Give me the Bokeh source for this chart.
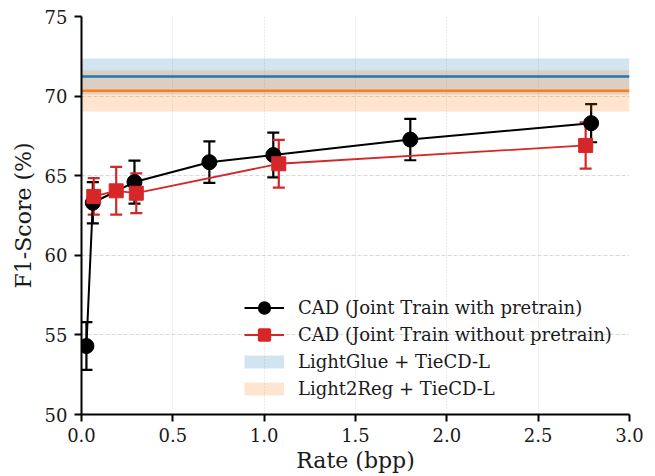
from bokeh.plotting import figure
from bokeh.models import Whisker, TeeHead, ColumnDataSource, FixedTicker, PrintfTickFormatter, Range1d, Legend, LegendItem
from bokeh.embed import file_html
from bokeh.resources import INLINE

# Data
x_pre = [0.027, 0.062, 0.29, 0.70, 1.05, 1.80, 2.79]
y_pre = [54.3, 63.3, 64.6, 65.85, 66.3, 67.27, 68.3]
err_pre = [1.5, 1.3, 1.35, 1.3, 1.4, 1.3, 1.2]

x_nopre = [0.067, 0.19, 0.30, 1.08, 2.76]
y_nopre = [63.7, 64.05, 63.9, 65.75, 66.9]
err_nopre = [1.15, 1.5, 1.25, 1.5, 1.45]

lightglue_mean, lightglue_std = 71.23, 1.13
light2reg_mean, light2reg_std = 70.33, 1.3

x_ticks = [0.0, 0.5, 1.0, 1.5, 2.0, 2.5, 3.0]
y_ticks = [50, 55, 60, 65, 70, 75]

FONT = "DejaVu Serif"
BLACK = "#000000"
RED = "#d62728"
BLUE = "#1f77b4"
ORANGE = "#ff7f0e"
TXT = "#1a1a1a"
NAN = float("nan")

p = figure(width=648, height=476, output_backend="svg", toolbar_location=None,
           x_range=Range1d(0, 3), y_range=Range1d(50, 75),
           min_border_left=81, min_border_top=16, min_border_right=19, min_border_bottom=62)
p.outline_line_color = None

# bands
p.varea(x=[0, 3], y1=[lightglue_mean - lightglue_std] * 2, y2=[lightglue_mean + lightglue_std] * 2,
        fill_color=BLUE, fill_alpha=0.2)
p.varea(x=[0, 3], y1=[light2reg_mean - light2reg_std] * 2, y2=[light2reg_mean + light2reg_std] * 2,
        fill_color=ORANGE, fill_alpha=0.2)
p.line([0, 3], [lightglue_mean] * 2, line_color=BLUE, line_width=2.5)
p.line([0, 3], [light2reg_mean] * 2, line_color=ORANGE, line_width=2.5)

# legend-only proxies (no visible data)
leg_blue = p.line([NAN, NAN], [NAN, NAN], line_color=BLUE, line_alpha=0.2, line_width=13, line_cap="butt")
leg_orange = p.line([NAN, NAN], [NAN, NAN], line_color=ORANGE, line_alpha=0.2, line_width=13, line_cap="butt")
leg_circ = p.scatter([NAN], [NAN], marker="circle", fill_color=BLACK, line_color=BLACK, line_width=2.5)
leg_sq = p.scatter([NAN], [NAN], marker="square", fill_color=RED, line_color=RED, line_width=2.5)

# series with pretrain
src_pre = ColumnDataSource(dict(x=x_pre, y=y_pre,
                                lo=[a - b for a, b in zip(y_pre, err_pre)],
                                hi=[a + b for a, b in zip(y_pre, err_pre)]))
lab_pre = "CAD (Joint Train with pretrain)"
l_pre = p.line("x", "y", source=src_pre, line_color=BLACK, line_width=2)
p.add_layout(Whisker(base="x", lower="lo", upper="hi", source=src_pre, dimension="height",
                     line_color=BLACK, line_width=2.2,
                     upper_head=TeeHead(size=12, line_color=BLACK, line_width=2.2),
                     lower_head=TeeHead(size=12, line_color=BLACK, line_width=2.2)))
s_pre = p.scatter("x", "y", source=src_pre, marker="circle", size=15, fill_color=BLACK, line_color=BLACK)

# series without pretrain
src_np = ColumnDataSource(dict(x=x_nopre, y=y_nopre,
                               lo=[a - b for a, b in zip(y_nopre, err_nopre)],
                               hi=[a + b for a, b in zip(y_nopre, err_nopre)]))
lab_np = "CAD (Joint Train without pretrain)"
l_np = p.line("x", "y", source=src_np, line_color=RED, line_width=1.8)
p.add_layout(Whisker(base="x", lower="lo", upper="hi", source=src_np, dimension="height",
                     line_color=RED, line_width=2.2,
                     upper_head=TeeHead(size=12, line_color=RED, line_width=2.2),
                     lower_head=TeeHead(size=12, line_color=RED, line_width=2.2)))
s_np = p.scatter("x", "y", source=src_np, marker="square", size=14, fill_color=RED, line_color=RED)

# axes
p.xaxis.ticker = FixedTicker(ticks=x_ticks)
p.yaxis.ticker = FixedTicker(ticks=y_ticks)
p.xaxis.formatter = PrintfTickFormatter(format="%.1f")
p.yaxis.formatter = PrintfTickFormatter(format="%d")
for ax in (p.xaxis, p.yaxis):
    ax.axis_line_width = 2
    ax.axis_line_color = BLACK
    ax.major_tick_line_width = 2
    ax.major_tick_line_color = BLACK
    ax.major_tick_out = 7
    ax.major_tick_in = 0
    ax.minor_tick_line_color = None
    ax.major_label_text_font = FONT
    ax.major_label_text_font_size = "18px"
    ax.major_label_text_color = TXT
    ax.axis_label_text_font = FONT
    ax.axis_label_text_font_size = "22px"
    ax.axis_label_text_font_style = "normal"
    ax.axis_label_text_color = TXT
p.xaxis.axis_label = "Rate (bpp)"
p.yaxis.axis_label = "F1-Score (%)"
p.xaxis.major_label_standoff = 6
p.xaxis.axis_label_standoff = 3
p.yaxis.major_label_standoff = 7
p.yaxis.axis_label_standoff = 6

p.xgrid.grid_line_color = "#d9d9d9"
p.xgrid.grid_line_dash = "1 2"
p.xgrid.grid_line_width = 1
p.ygrid.grid_line_color = "#d9d9d9"
p.ygrid.grid_line_dash = "4 2"
p.ygrid.grid_line_width = 1

# legend
lg = Legend(items=[
    LegendItem(label=lab_pre, renderers=[l_pre, leg_circ]),
    LegendItem(label=lab_np, renderers=[l_np, leg_sq]),
    LegendItem(label="LightGlue + TieCD-L", renderers=[leg_blue]),
    LegendItem(label="Light2Reg + TieCD-L", renderers=[leg_orange]),
])
lg.location = (163, 12)
lg.background_fill_alpha = 0
lg.border_line_color = None
lg.label_text_font = FONT
lg.label_text_font_size = "18px"
lg.label_text_color = TXT
lg.glyph_width = 40
lg.glyph_height = 27
lg.label_height = 20
lg.spacing = 0
lg.label_standoff = 14
lg.padding = 4
p.add_layout(lg, "center")

open("out.html", "w").write(file_html(p, INLINE))
